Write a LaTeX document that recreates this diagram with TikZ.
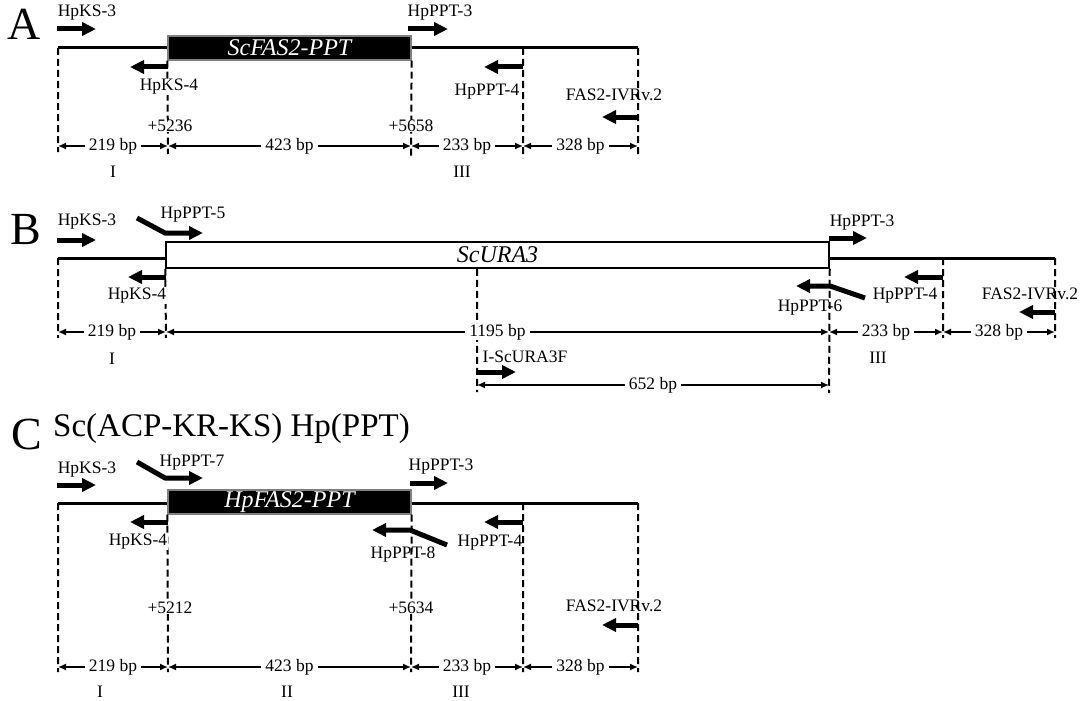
\documentclass[tikz,border=0pt]{standalone}
\usepackage{fontspec}
\setmainfont{Liberation Serif}
\usetikzlibrary{arrows.meta,positioning,calc}

\begin{document}
\begin{tikzpicture}[x=1pt,y=-1pt,
 lbl/.style={font=\fontsize{17.5}{18}\selectfont,inner sep=0.5pt},
 bp/.style={lbl,fill=white,inner xsep=4pt},
 posn/.style={lbl,fill=white},
 panel/.style={font=\fontsize{46}{46}\selectfont,inner sep=0pt},
 dna/.style={line width=3pt},
 guide/.style={line width=2pt,dash pattern=on 7pt off 4pt},
 dim/.style={line width=1.5pt,{Latex[length=8pt,width=7pt]}-{Latex[length=8pt,width=7pt]}},
 primer/.style={line width=5pt,line join=round,-{Triangle[length=14pt,width=13pt]}},
 gene/.style={draw=black,line width=1.5pt,inner sep=0pt,minimum width=243pt,minimum height=24pt,font=\fontsize{24}{24}\selectfont\itshape},
 dark/.style={gene,text=white,fill=black,draw=black!50,line width=1.3pt}]
 \useasboundingbox (0,0) rectangle (1087,701);

 % A: ScFAS2-PPT
 \node[panel] (pA) at (24,24) {A};
 \node[dark] (scfas) at (289.5,48) {ScFAS2-PPT};
 \coordinate (A1) at (58,48); \coordinate (A4) at (523,48); \coordinate (A5) at (638,48);
 \coordinate (a1) at (58,146); \coordinate (a2) at (168,146); \coordinate (a3) at (411,146);
 \coordinate (a4) at (523,146); \coordinate (a5) at (638,146);
 \draw[dna] (A1) -- (scfas.west) (scfas.east) -- (A5);
 \draw[guide] (A1) -- ([yshift=-6pt]a1) (scfas.south west) -- ([yshift=-8pt]a2) (scfas.south east) -- ([yshift=-12pt]a3)
  (A4) -- ([yshift=-12pt]a4) (A5) -- ([yshift=-12pt]a5);
 \draw[dim] (a1) -- node[bp] {219 bp} (a2); \draw[dim] (a2) -- node[bp] {423 bp} (a3);
 \draw[dim] (a3) -- node[bp] {233 bp} (a4); \draw[dim] (a4) -- node[bp] {328 bp} (a5);
 \draw[primer] (57,29) -- (96,29); \node[lbl] (ksA3) at (87,13) {HpKS-3};
 \draw[primer] (168,67) -- (130,67); \node[posn] (ksA4) at (169,87) {HpKS-4};
 \draw[primer] (408,29) -- (448,29); \node[lbl] (pptA3) at (440,13) {HpPPT-3};
 \draw[primer] (523,67) -- (484,67); \node[lbl] (pptA4) at (487,92) {HpPPT-4};
 \draw[primer] (638,117) -- (602,117); \node[lbl] (ivrA) at (614,95) {FAS2-IVRv.2};
 \node[posn] (posA1) at (170,126) {+5236}; \node[posn] (posA2) at (411,126) {+5658};
 \node[lbl] at (113,172) {I}; \node[lbl] at (462,172) {III};

 % B: ScURA3
 \node[panel] (pB) at (26,230) {B};
 \node[gene,minimum width=663pt,minimum height=26pt] (scura) at (497.5,255) {ScURA3};
 \coordinate (B1) at (58,258); \coordinate (B4) at (943,258); \coordinate (B5) at (1055,258);
 \coordinate (b1) at (58,332); \coordinate (b2) at (166,332); \coordinate (b3) at (829,332);
 \coordinate (b4) at (943,332); \coordinate (b5) at (1055,332);
 \coordinate (c1) at (477,385); \coordinate (c2) at (829,385);
 \draw[dna] (B1) -- (B1 -| scura.west) (B5 -| scura.east) -- (B5);
 \draw[guide] (B1) -- ([yshift=-6pt]b1) (scura.south west) -- ([yshift=-6pt]b2) (scura.south east) -- ([yshift=-8pt]c2)
  (c1 |- scura.south) -- ([yshift=-7pt]c1) (B4) -- ([yshift=-6pt]b4) (B5) -- ([yshift=-6pt]b5);
 \draw[dim] (b1) -- node[bp] {219 bp} (b2); \draw[dim] (b2) -- node[bp] {1195 bp} (b3);
 \draw[dim] (b3) -- node[bp] {233 bp} (b4); \draw[dim] (b4) -- node[bp] {328 bp} (b5);
 \draw[dim] (c1) -- node[bp] {652 bp} (c2);
 \draw[primer] (57,240) -- (96,240); \node[lbl] (ksB3) at (87,222) {HpKS-3};
 \draw[primer] (137,218) -- (165,233) -- (203,233); \node[lbl] (pptB5) at (193,215) {HpPPT-5};
 \draw[primer] (166,277) -- (128,277); \node[posn] (ksB4) at (137,296) {HpKS-4};
 \draw[primer] (829,238) -- (867,238); \node[lbl] (pptB3) at (862,223) {HpPPT-3};
 \draw[primer] (865,298) -- (830,286) -- (796,286); \node[lbl] (pptB6) at (810,308) {HpPPT-6};
 \draw[primer] (943,277) -- (904,277); \node[lbl] (pptB4) at (905,296) {HpPPT-4};
 \draw[primer] (1055,312) -- (1019,312); \node[lbl] (ivrB) at (1030,294) {FAS2-IVRv.2};
 \draw[primer] (477,372) -- (516,372); \node[lbl] (ura3f) at (525,357) {I-ScURA3F};
 \node[lbl] at (112,359) {I}; \node[lbl] at (878,358) {III};

 % C: Sc(ACP-KR-KS) Hp(PPT)
 \node[panel] (pC) at (27,434) {C};
 \node[font=\fontsize{33}{33}\selectfont,anchor=west,inner sep=0pt] (title) at (53,429) {Sc(ACP-KR-KS) Hp(PPT)};
 \node[dark] (hpfas) at (289.5,502) {HpFAS2-PPT};
 \coordinate (C1) at (58,503); \coordinate (C4) at (523,503); \coordinate (C5) at (638,503);
 \coordinate (d1) at (58,667); \coordinate (d2) at (168,667); \coordinate (d3) at (411,667);
 \coordinate (d4) at (523,667); \coordinate (d5) at (638,667);
 \draw[dna] (C1) -- (C1 -| hpfas.west) (C5 -| hpfas.east) -- (C5);
 \draw[guide] (C1) -- ([yshift=-5pt]d1) (hpfas.south west) -- ([yshift=-5pt]d2) (hpfas.south east) -- ([yshift=-5pt]d3)
  (C4) -- ([yshift=-5pt]d4) (C5) -- ([yshift=-5pt]d5);
 \draw[dim] (d1) -- node[bp] {219 bp} (d2); \draw[dim] (d2) -- node[bp] {423 bp} (d3);
 \draw[dim] (d3) -- node[bp] {233 bp} (d4); \draw[dim] (d4) -- node[bp] {328 bp} (d5);
 \draw[primer] (57,485) -- (96,485); \node[lbl] (ksC3) at (87,470) {HpKS-3};
 \draw[primer] (137,462) -- (165,478) -- (203,478); \node[lbl] (pptC7) at (192,463) {HpPPT-7};
 \draw[primer] (168,522) -- (130,522); \node[posn] (ksC4) at (138,542) {HpKS-4};
 \draw[primer] (410,483) -- (448,483); \node[lbl] (pptC3) at (441,467) {HpPPT-3};
 \draw[primer] (447,545) -- (410,530) -- (372,530); \node[lbl] (pptC8) at (403,555) {HpPPT-8};
 \draw[primer] (523,522) -- (484,522); \node[lbl] (pptC4) at (490,543) {HpPPT-4};
 \draw[primer] (638,625) -- (602,625); \node[lbl] (ivrC) at (614,606) {FAS2-IVRv.2};
 \node[posn] (posC1) at (170,608) {+5212}; \node[posn] (posC2) at (411,608) {+5634};
 \node[lbl] at (100,692) {I}; \node[lbl] at (287,692) {II}; \node[lbl] at (461,692) {III};
\end{tikzpicture}
\end{document}
